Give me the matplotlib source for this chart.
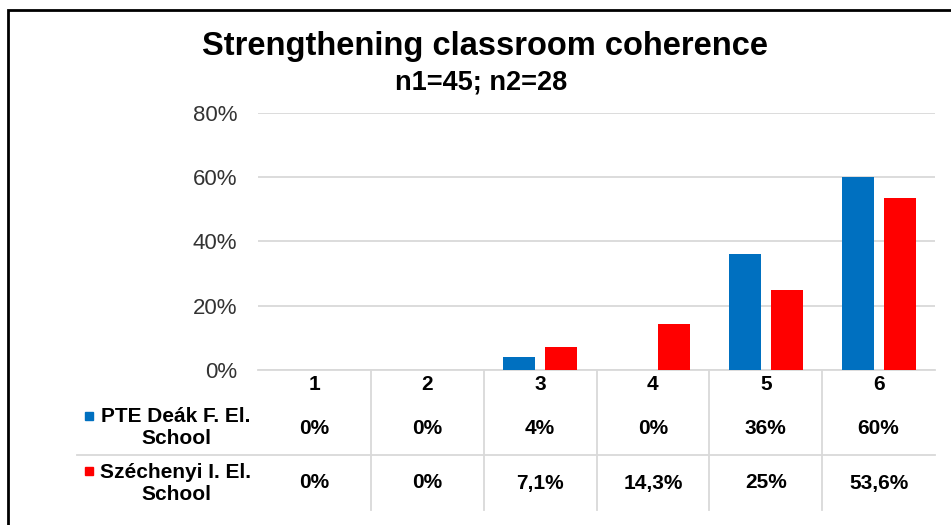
import numpy as np
import matplotlib
matplotlib.use("Agg")
import matplotlib.pyplot as plt
from matplotlib.patches import Rectangle
from matplotlib.lines import Line2D
from matplotlib.transforms import blended_transform_factory

categories = ["1", "2", "3", "4", "5", "6"]
series_names = ["PTE Deák F. El.\nSchool", "Széchenyi I. El.\nSchool"]
pte = [0, 0, 4, 0, 36, 60]
szechenyi = [0, 0, 7.1, 14.3, 25, 53.6]
yticks = [0, 20, 40, 60, 80]
colors = ["#0070C0", "#FF0000"]

W, H = 951, 525
plt.rcParams['font.family'] = ['Liberation Sans', 'DejaVu Sans']
fig = plt.figure(figsize=(W / 100, H / 100), dpi=100)

def fx(x):
    return x / W

def fy(y):
    return 1 - y / H

# plot area
x0, x1, ytop, ybot = 258, 935, 112.6, 370
ax = fig.add_axes([fx(x0), fy(ybot), fx(x1) - fx(x0), fy(ytop) - fy(ybot)])
x = np.arange(len(categories))
bw = 0.284
off = 0.186
ax.bar(x - off, pte, width=bw, color=colors[0], zorder=3)
ax.bar(x + off, szechenyi, width=bw, color=colors[1], zorder=3)
ax.set_xlim(-0.5, len(categories) - 0.5)
ax.set_ylim(0, 80)
ax.set_yticks(yticks)
ax.set_yticklabels([f"{t}%" for t in yticks], fontsize=16, color="#333333")
ax.tick_params(axis='y', length=0, pad=15)
ax.set_xticks([])
ax.grid(axis='y', color="#D9D9D9", linewidth=1.3, zorder=0)
for s in ["top", "right", "left"]:
    ax.spines[s].set_visible(False)
ax.spines["bottom"].set_color("#D9D9D9")
ax.spines["bottom"].set_linewidth(1.3)

tr = blended_transform_factory(ax.transData, fig.transFigure)

# table lines
for b in np.arange(len(categories) - 1) + 0.5:
    fig.add_artist(Line2D([b, b], [fy(370), fy(510)], transform=tr,
                          color="#D9D9D9", linewidth=1.3))
fig.add_artist(Line2D([fx(77), fx(x1)], [fy(455), fy(455)], transform=fig.transFigure,
                      color="#D9D9D9", linewidth=1.3))

def fmt(v):
    return f"{v:g}".replace('.', ',') + "%"

# category labels
for i, c in enumerate(categories):
    fig.text(i, fy(385), c, transform=tr, ha='center', va='center',
             fontsize=15, fontweight='bold', color='black')

row_y = [428, 483]
for r, vals in enumerate([pte, szechenyi]):
    for i, v in enumerate(vals):
        fig.text(i, fy(row_y[r]), fmt(v), transform=tr, ha='center', va='center',
                 fontsize=15, fontweight='bold', color='black')

# legend cells
label_y = [427.5, 483.5]
marker_y = [416, 470.5]
for r, name in enumerate(series_names):
    fig.text(fx(176), fy(label_y[r]), name, ha='center', va='center', fontsize=15,
             fontweight='bold', color='black', linespacing=1.18)
    fig.add_artist(Rectangle((fx(85), fy(marker_y[r] + 4)), fx(8), 8 / H,
                             transform=fig.transFigure, color=colors[r]))

# titles
fig.text(fx(485), fy(47), "Strengthening classroom coherence", ha='center', va='center',
         fontsize=23.5, fontweight='bold', color='black')
fig.text(fx(481), fy(82), "n1=45; n2=28", ha='center', va='center',
         fontsize=19.5, fontweight='bold', color='black')

# border (top and left visible)
fig.add_artist(Rectangle((fx(8), fy(540)), fx(960), fy(9.5) - fy(540),
                         transform=fig.transFigure, fill=False, edgecolor='black',
                         linewidth=2))

fig.savefig("out.png", dpi=100)
